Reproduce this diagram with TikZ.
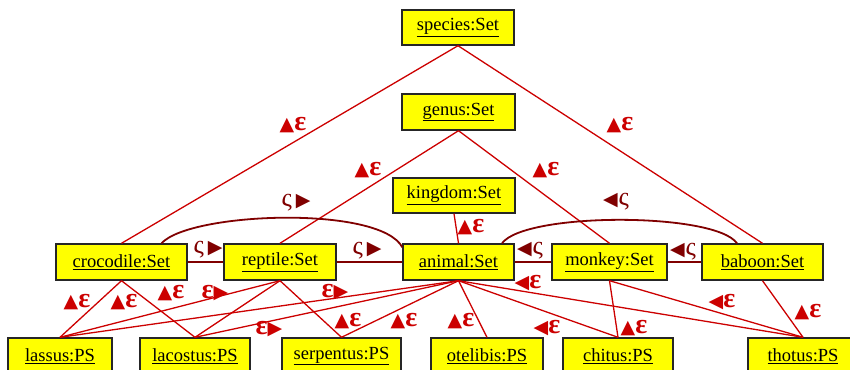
\documentclass[tikz,border=0pt]{standalone}
\usepackage{fontspec}
\setmainfont{Liberation Serif}
\newfontfamily\symf{DejaVu Sans}
\definecolor{redA}{RGB}{204,0,0}
\definecolor{redD}{RGB}{128,0,0}
\definecolor{boxY}{RGB}{255,255,0}
\newcommand{\tri}[1]{{\symf\fontsize{19}{19}\selectfont #1}}
\newcommand{\epsl}{{\bfseries\fontsize{28}{28}\selectfont ε}}
\newcommand{\sig}{{\fontsize{26}{26}\selectfont ς}}
\newcommand{\upE}{\tri{▲}\epsl}
\newcommand{\leftE}{\tri{◀}\epsl}
\newcommand{\rightE}{\epsl\tri{▶}}
\newcommand{\rightS}{\sig\kern4pt\tri{▶}}
\newcommand{\leftS}{\tri{◀}\kern1pt\sig}
\tikzset{
  obj/.style={draw=black!85, line width=1.4pt, fill=boxY, inner sep=0pt,
    minimum height=36pt, font=\fontsize{18.5}{20}\selectfont, text=black},
  memb/.style={draw=redA, line width=1.3pt},
  subs/.style={draw=redD, line width=1.8pt},
  lab/.style={text=redA, inner sep=0pt},
  slab/.style={text=redD, inner sep=0pt}
}
\begin{document}
\begin{tikzpicture}[x=1pt,y=-1pt]
\useasboundingbox (0,0) rectangle (850,369);
\clip (0,0) rectangle (850,369);
% Set objects
\node[obj, minimum width=112pt, minimum height=35pt] (species) at (458,27.5) {\underline{species:Set}};
\node[obj, minimum width=113pt] (genus) at (458.5,112) {\underline{genus:Set}};
\node[obj, minimum width=122pt, minimum height=35pt] (kingdom) at (454,195.5) {\underline{kingdom:Set}};
\node[obj, minimum width=131pt] (crocodile) at (121.5,262) {\underline{crocodile:Set}};
\node[obj, minimum width=112pt] (reptile) at (280,262) {\underline{reptile:Set}};
\node[obj, minimum width=111pt] (animal) at (458.5,262) {\underline{animal:Set}};
\node[obj, minimum width=115pt] (monkey) at (609.5,262) {\underline{monkey:Set}};
\node[obj, minimum width=121pt] (baboon) at (762.5,262) {\underline{baboon:Set}};
% PS objects
\node[obj, minimum width=104pt] (lassus) at (60,356) {\underline{lassus:PS}};
\node[obj, minimum width=110pt] (lacostus) at (195,356) {\underline{lacostus:PS}};
\node[obj, minimum width=119pt] (serpentus) at (341.5,356) {\underline{serpentus:PS}};
\node[obj, minimum width=112pt] (otelibis) at (487,356) {\underline{otelibis:PS}};
\node[obj, minimum width=110pt] (chitus) at (618,356) {\underline{chitus:PS}};
\node[obj, minimum width=110pt] (thotus) at (803,356) {\underline{thotus:PS}};
% membership edges
\draw[memb] (species.south) -- (crocodile.north);
\draw[memb] (species.south) -- (baboon.north);
\draw[memb] (genus.south) -- (reptile.north);
\draw[memb] (genus.south) -- (monkey.north);
\draw[memb] (kingdom.south) -- (animal.north);
\draw[memb] (crocodile.south) -- (lassus.north);
\draw[memb] (crocodile.south) -- (lacostus.north);
\draw[memb] (reptile.south) -- (lassus.north);
\draw[memb] (reptile.south) -- (lacostus.north);
\draw[memb] (reptile.south) -- (serpentus.north);
\draw[memb] (animal.south) -- (lassus.north);
\draw[memb] (animal.south) -- (lacostus.north);
\draw[memb] (animal.south) -- (serpentus.north);
\draw[memb] (animal.south) -- (otelibis.north);
\draw[memb] (animal.south) -- (chitus.north);
\draw[memb] (animal.south) -- (thotus.north);
\draw[memb] (monkey.south) -- (chitus.north);
\draw[memb] (monkey.south) -- (thotus.north);
\draw[memb] (baboon.south) -- (thotus.north);
% subset edges
\draw[subs] (crocodile.east) -- (reptile.west);
\draw[subs] (reptile.east) -- (animal.west);
\draw[subs] (monkey.west) -- (animal.east);
\draw[subs] (baboon.west) -- (monkey.east);
\draw[subs] ([xshift=40pt]crocodile.north) .. controls (190,212) and (380,205) .. ([yshift=-4pt]animal.north west);
\draw[subs] ([xshift=43.5pt]animal.north) .. controls (525,212) and (715,212) .. ([xshift=-25.5pt]baboon.north);
% labels
\node[lab] (l1) at (293,125) {\upE};
\node[lab] (l2) at (620,125) {\upE};
\node[lab] (l3) at (368,170) {\upE};
\node[lab] (l4) at (546,170) {\upE};
\node[slab] (l5) at (296,203) {\rightS};
\node[slab] (l6) at (616,202) {\leftS};
\node[lab] (l7) at (471,227) {\upE};
\node[slab] (l8) at (208,250) {\rightS};
\node[slab] (l9) at (367,251) {\rightS};
\node[slab] (l10) at (530,251) {\leftS};
\node[slab] (l11) at (683,252) {\leftS};
\node[lab] (l12) at (77,302) {\upE};
\node[lab] (l13) at (124,302) {\upE};
\node[lab] (l14) at (171,293) {\upE};
\node[lab] (l15) at (215,293) {\rightE};
\node[lab] (l16) at (269,329) {\rightE};
\node[lab] (l17) at (335,292) {\rightE};
\node[lab] (l18) at (348,321) {\upE};
\node[lab] (l19) at (404,321) {\upE};
\node[lab] (l20) at (461,321) {\upE};
\node[lab] (l21) at (528,283) {\leftE};
\node[lab] (l22) at (547,328) {\leftE};
\node[lab] (l23) at (722,302) {\leftE};
\node[lab] (l24) at (634,328) {\upE};
\node[lab] (l25) at (808,312) {\upE};
\end{tikzpicture}
\end{document}
